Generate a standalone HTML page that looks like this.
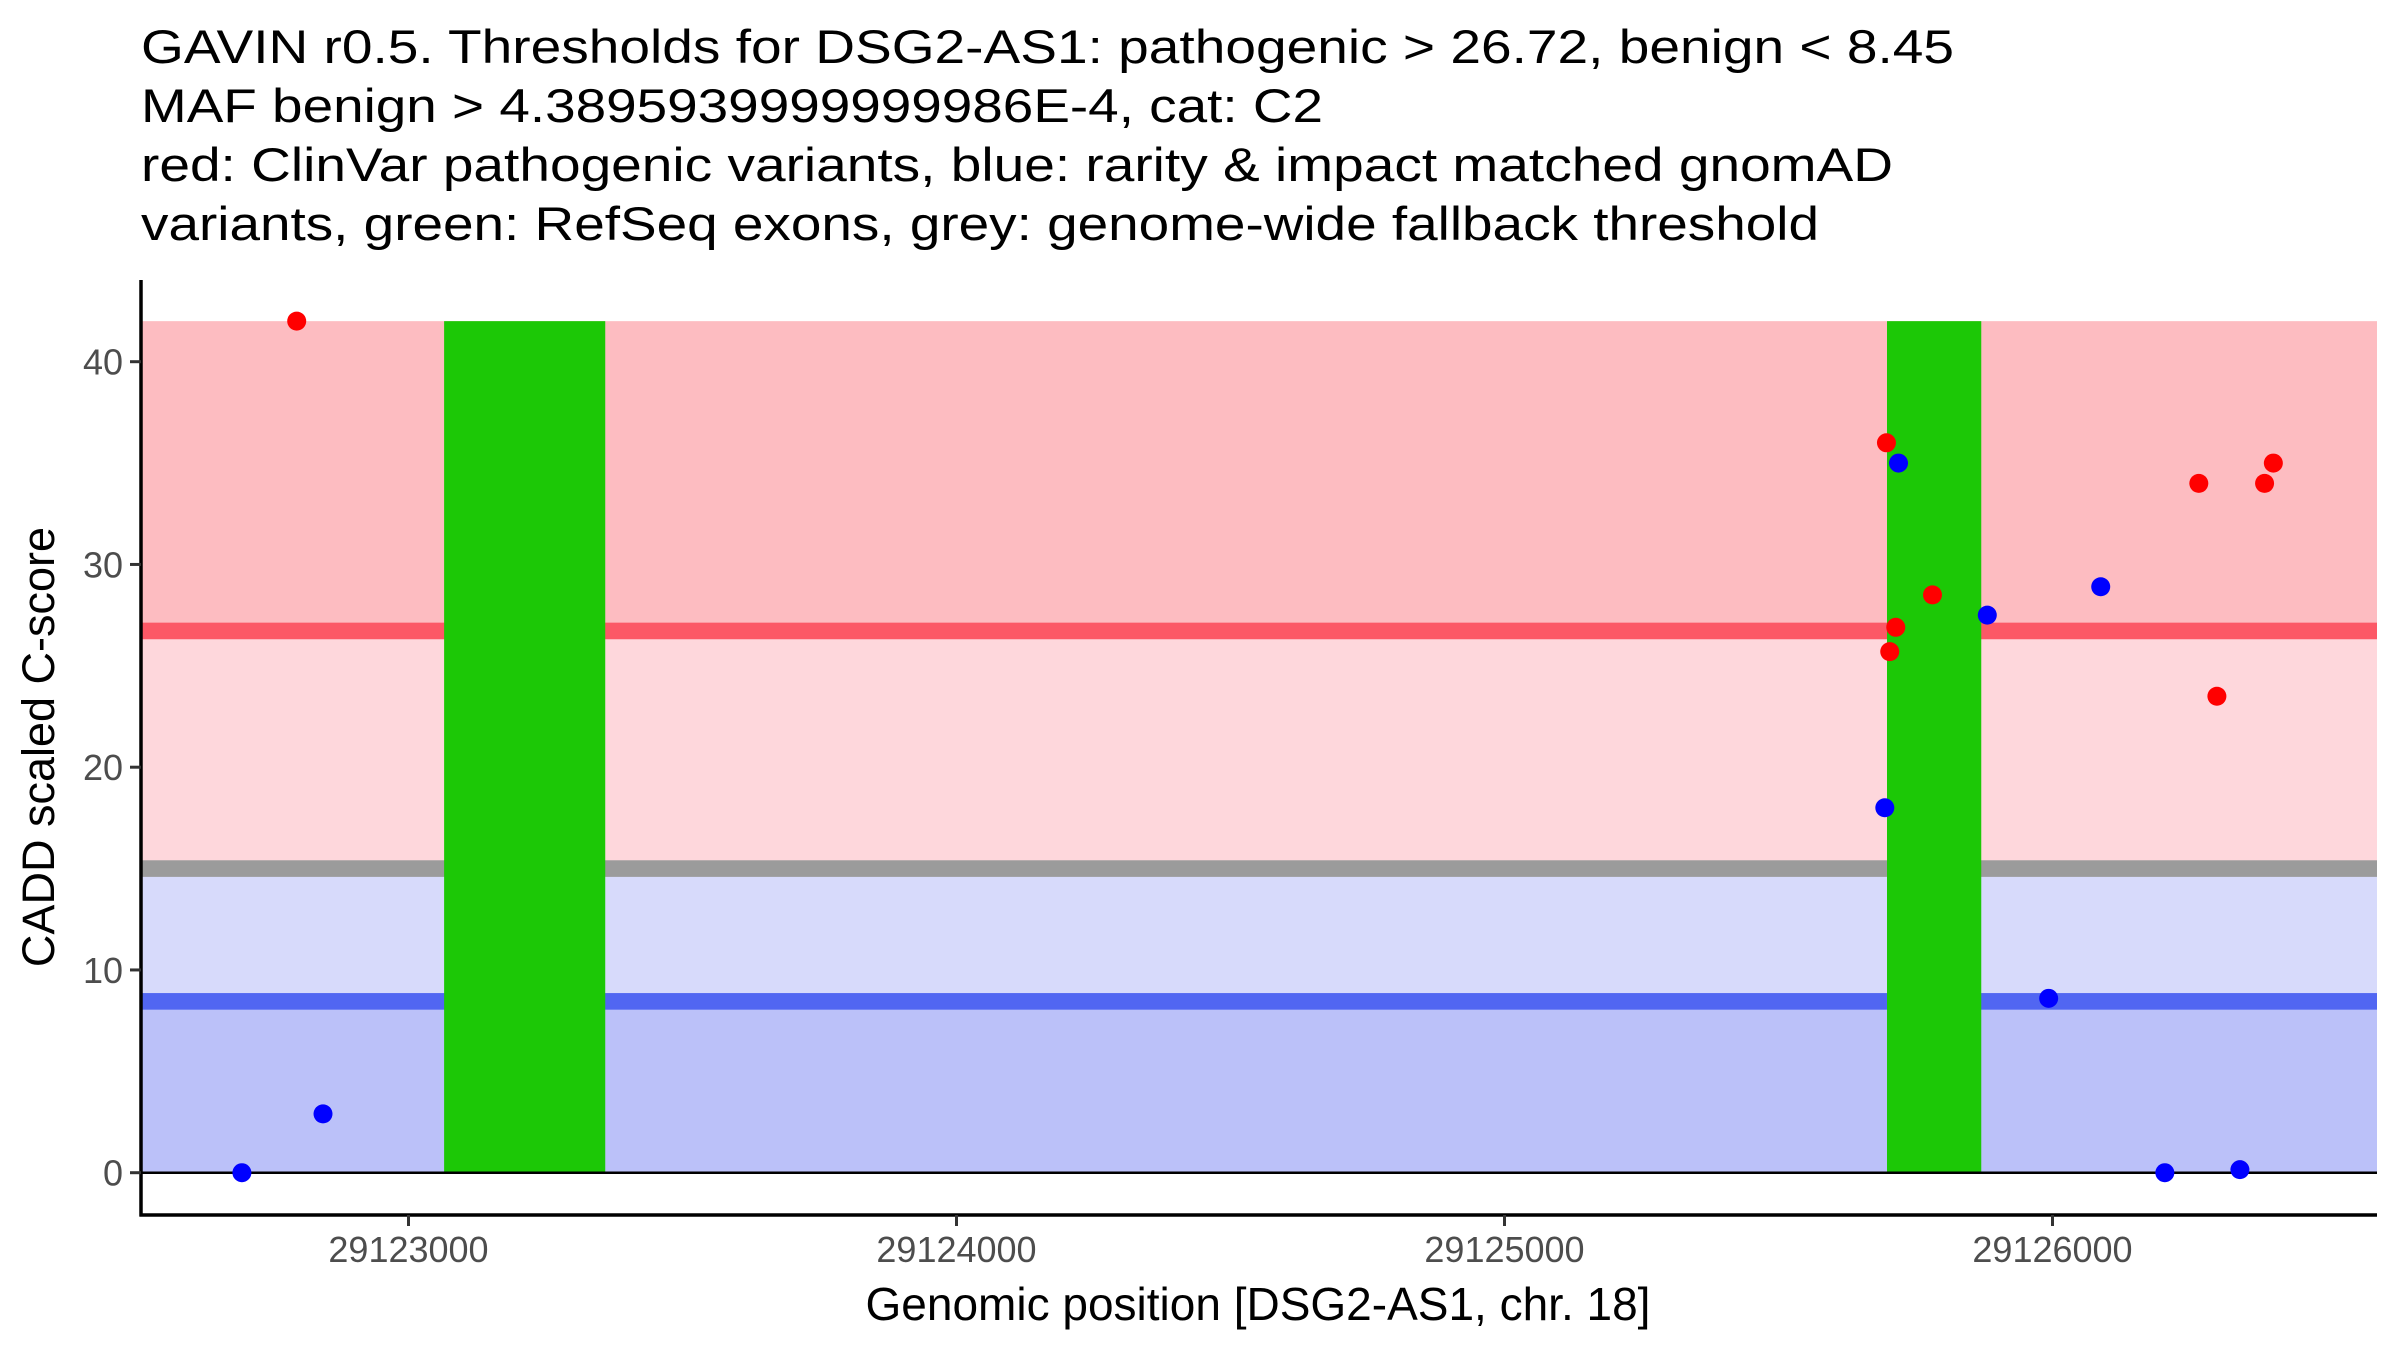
<!DOCTYPE html>
<html><head><meta charset="utf-8"><style>
html,body{margin:0;padding:0;background:#fff;}
svg{display:block;font-family:"Liberation Sans",Arial,sans-serif;}
</style></head><body>
<svg id="chart" width="2400" height="1350" viewBox="0 0 2400 1350">
<g font-size="47" fill="#000">
<text x="141" y="63" textLength="1813" lengthAdjust="spacingAndGlyphs">GAVIN r0.5. Thresholds for DSG2-AS1: pathogenic &gt; 26.72, benign &lt; 8.45</text>
<text x="141" y="122" textLength="1182" lengthAdjust="spacingAndGlyphs">MAF benign &gt; 4.3895939999999986E-4, cat: C2</text>
<text x="141" y="181" textLength="1752" lengthAdjust="spacingAndGlyphs">red: ClinVar pathogenic variants, blue: rarity &amp; impact matched gnomAD</text>
<text x="141" y="240" textLength="1678" lengthAdjust="spacingAndGlyphs">variants, green: RefSeq exons, grey: genome-wide fallback threshold</text>
</g>
<g id="bands"></g>
<g id="exons"></g>
<g id="zero"></g>
<g id="points"></g>
<g id="axes"></g>
<text x="1258" y="1320" font-size="46" text-anchor="middle" fill="#000">Genomic position [DSG2-AS1, chr. 18]</text>
<text transform="translate(54,747) rotate(-90)" font-size="45" text-anchor="middle" fill="#000">CADD scaled C-score</text>
</svg>
<script>
const yTicks = [0, 10, 20, 30, 40];
const xTicks = [29123000, 29124000, 29125000, 29126000];
const pathogenicThreshold = 26.72;
const benignThreshold = 8.45;
const fallbackThreshold = 15.0;
const bandTop = 42;
const exonStarts = [29123065, 29125698];
const exonEnds = [29123359, 29125870];
const redPos = [29122796, 29125697, 29125714, 29125703, 29125781, 29126267, 29126300, 29126387, 29126403];
const redScore = [42, 36, 26.9, 25.7, 28.5, 34, 23.5, 34, 35];
const bluePos = [29122696, 29122844, 29125719, 29125694, 29125881, 29126088, 29125993, 29126205, 29126342];
const blueScore = [0, 2.9, 35, 18, 27.5, 28.9, 8.6, 0, 0.15];

const NS = 'http://www.w3.org/2000/svg';
const L = 141, R = 2377, AX_Y = 1215, TOP = 280;
const x = v => 408.5 + (v - 29123000) * 0.548;
const y = v => 1172.7 - v * 20.275;
function mk(parent, tag, attrs){const e=document.createElementNS(NS,tag);for(const k in attrs)e.setAttribute(k,attrs[k]);document.getElementById(parent).appendChild(e);return e;}

let e;
e = mk('bands','rect',{x:L,y:y(bandTop),width:R-L,height:y(pathogenicThreshold)-y(bandTop),fill:'#fdbcc1'});


e = mk('bands','rect',{x:L,y:y(pathogenicThreshold),width:R-L,height:y(fallbackThreshold)-y(pathogenicThreshold),fill:'#fed7dc'});


e = mk('bands','rect',{x:L,y:y(fallbackThreshold),width:R-L,height:y(benignThreshold)-y(fallbackThreshold),fill:'#d7dafb'});


e = mk('bands','rect',{x:L,y:y(benignThreshold),width:R-L,height:y(0)-y(benignThreshold),fill:'#bbc1f9'});


e = mk('bands','rect',{x:L,y:y(pathogenicThreshold)-8.3,width:R-L,height:16.6,fill:'#fc5866'});


e = mk('bands','rect',{x:L,y:y(fallbackThreshold)-8.3,width:R-L,height:16.6,fill:'#9b9b9b'});


e = mk('bands','rect',{x:L,y:y(benignThreshold)-8.3,width:R-L,height:16.6,fill:'#5166f2'});



exonStarts.forEach((s,i)=>{
  const r = mk('exons','rect',{x:x(s),y:y(bandTop),width:x(exonEnds[i])-x(s),height:y(0)-y(bandTop),fill:'#1cc806'});
  
  
});

e = mk('zero','line',{x1:L,x2:R,y1:y(0),y2:y(0),stroke:'#000','stroke-width':2.5});



redPos.forEach((p,i)=>{
  const c = mk('points','circle',{cx:x(p),cy:y(redScore[i]),r:9.5,fill:'#ff0000'});
  
  
});
bluePos.forEach((p,i)=>{
  const c = mk('points','circle',{cx:x(p),cy:y(blueScore[i]),r:9.5,fill:'#0000ff'});
  
  
});

e = mk('axes','line',{x1:L,x2:L,y1:TOP,y2:AX_Y+1.5,stroke:'#000','stroke-width':3.5});


e = mk('axes','line',{x1:L-1.5,x2:R,y1:AX_Y,y2:AX_Y,stroke:'#000','stroke-width':3.5});


yTicks.forEach(t=>{
  const tk = mk('axes','line',{x1:L-11,x2:L,y1:y(t),y2:y(t),stroke:'#333','stroke-width':3});
  
  
  const tx = mk('axes','text',{x:123,y:y(t)+13,'font-size':36,'text-anchor':'end',fill:'#4d4d4d'});
  tx.textContent = t;
  
  
});
xTicks.forEach(t=>{
  const tk = mk('axes','line',{x1:x(t),x2:x(t),y1:AX_Y,y2:AX_Y+11,stroke:'#333','stroke-width':3});
  
  
  const tx = mk('axes','text',{x:x(t),y:1262,'font-size':36,'text-anchor':'middle',fill:'#4d4d4d'});
  tx.textContent = t;
  
  
});
</script>
</body></html>
